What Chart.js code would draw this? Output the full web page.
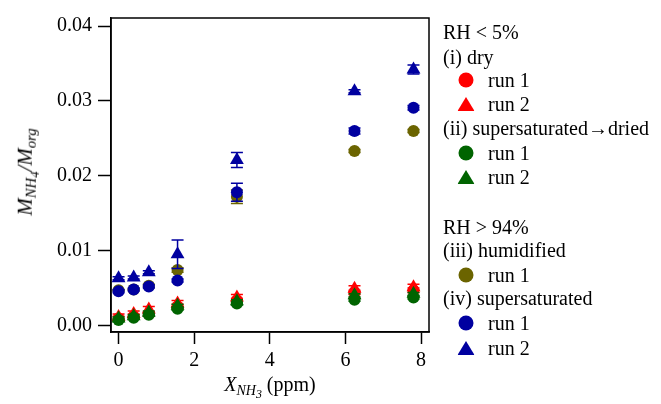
<!DOCTYPE html>
<html>
<head>
<meta charset="utf-8">
<script src="https://cdn.jsdelivr.net/npm/chart.js@4"></script>
<style>
  body { margin: 0; background: #fff; }
  #wrap { position: relative; width: 661px; height: 404px; font-family: "Liberation Serif", "DejaVu Serif", serif; color: #000; }
  #chart { position: absolute; left: 0; top: 0; }
  .ytitle { position: absolute; left: 28px; top: 172px; transform: translate(-50%, -50%) rotate(-90deg); font-size: 21px; white-space: nowrap; font-style: italic; }
  .xtitle { position: absolute; left: 270px; top: 388px; transform: translate(-50%, -50%); font-size: 20px; white-space: nowrap; }
  sub { font-size: 0.7em; vertical-align: -0.3em; }
  sub sub { font-size: 0.85em; vertical-align: -0.25em; }
  .lg { position: absolute; font-size: 20px; white-space: nowrap; line-height: 20px; transform: translateY(-50%); }
  .mk { position: absolute; transform: translate(-50%, -50%); }
  .dot { width: 15px; height: 15px; border-radius: 50%; }
  .tri { width: 17px; height: 14px; clip-path: polygon(50% 0, 100% 100%, 0 100%); }
</style>
</head>
<body>
<div id="wrap">
  <canvas id="chart" width="661" height="404"></canvas>
  <div class="ytitle">M<sub>NH<sub>4</sub></sub>/M<sub>org</sub></div>
  <div class="xtitle"><i>X<sub>NH<sub>3</sub></sub></i> (ppm)</div>
  <div id="legend"></div>
</div>
<script>
// ---- data ----
const xValues = [0, 0.4, 0.8, 1.56, 3.13, 6.24, 7.8];
const yTicks = [0, 0.01, 0.02, 0.03, 0.04];
const xTicks = [0, 2, 4, 6, 8];

// (i) dry
const dryRun1 = [0.0009, 0.0012, 0.0015, 0.0025, 0.0033, 0.0044, 0.0047];
const dryRun1Err = [0.0003, 0.0003, 0.0003, 0.0003, 0.0003, 0.0003, 0.0003];
const dryRun2 = [0.0011, 0.0015, 0.0021, 0.0029, 0.0037, 0.0049, 0.0051];
const dryRun2Err = [0.0004, 0.0004, 0.0004, 0.0004, 0.0004, 0.0004, 0.0004];
// (ii) supersaturated -> dried
const driedRun1 = [0.0007, 0.0010, 0.0014, 0.0022, 0.0029, 0.0034, 0.0037];
const driedRun1Err = [0.0002, 0.0002, 0.0002, 0.0002, 0.0002, 0.0002, 0.0002];
const driedRun2 = [0.0009, 0.0012, 0.0017, 0.0026, 0.0032, 0.0040, 0.0042];
const driedRun2Err = [0.0002, 0.0002, 0.0002, 0.0002, 0.0002, 0.0002, 0.0002];
// (iii) humidified
const humidRun1 = [0.0047, 0.0048, 0.0053, 0.0074, 0.0172, 0.0233, 0.0260];
const humidRun1Err = [0.0001, 0.0001, 0.0002, 0.0003, 0.0009, 0.0002, 0.0002];
// (iv) supersaturated
const superRun1 = [0.00455, 0.0048, 0.0052, 0.0060, 0.0178, 0.0260, 0.0291];
const superRun1Err = [0.0002, 0.0002, 0.0002, 0.0002, 0.0012, 0.0004, 0.0003];
const superRun2 = [0.0063, 0.0064, 0.0071, 0.0095, 0.0221, 0.0313, 0.0342];
const superRun2Err = [0.0002, 0.0002, 0.0002, 0.0019, 0.0010, 0.0002, 0.0006];

const RED = 'rgb(255, 0, 0)';
const GREEN = 'rgb(0, 100, 0)';
const OLIVE = 'rgb(107, 100, 0)';
const BLUE = 'rgb(0, 0, 160)';

function makeSet(label, ys, errs, color, shape, order) {
  return {
    label: label,
    data: xValues.map((x, i) => ({ x: x, y: ys[i] })),
    errors: errs,
    backgroundColor: color,
    borderColor: color,
    borderWidth: 0,
    pointStyle: shape,
    pointRadius: shape === 'triangle' ? 8 : 6,
    showLine: false,
    order: order,
  };
}

// error bars, drawn under each dataset's markers
const errorBars = {
  id: 'errorBars',
  beforeDatasetDraw(chart, args) {
    const ds = chart.data.datasets[args.index];
    if (!ds.errors) return;
    const ctx = chart.ctx;
    const xs = chart.scales.x, ys = chart.scales.y;
    ctx.save();
    ctx.strokeStyle = ds.borderColor;
    ctx.lineWidth = 1.5;
    ds.data.forEach((p, i) => {
      const px = xs.getPixelForValue(p.x);
      const top = ys.getPixelForValue(p.y + ds.errors[i]);
      const bot = ys.getPixelForValue(p.y - ds.errors[i]);
      ctx.beginPath();
      ctx.moveTo(px, top); ctx.lineTo(px, bot);
      ctx.moveTo(px - 6, top); ctx.lineTo(px + 6, top);
      ctx.moveTo(px - 6, bot); ctx.lineTo(px + 6, bot);
      ctx.stroke();
    });
    ctx.restore();
  }
};

// box round the plot area
const frame = {
  id: 'frame',
  afterDraw(chart) {
    const a = chart.chartArea, ctx = chart.ctx;
    ctx.save();
    ctx.strokeStyle = '#000';
    ctx.lineWidth = 1.5;
    ctx.strokeRect(a.left, a.top, a.right - a.left, a.bottom - a.top);
    ctx.restore();
  }
};

const scatterData = {
  datasets: [
    makeSet('(i) dry run 1', dryRun1, dryRun1Err, RED, 'circle', 7),
    makeSet('(i) dry run 2', dryRun2, dryRun2Err, RED, 'triangle', 6),
    makeSet('(ii) run 1', driedRun1, driedRun1Err, GREEN, 'circle', 5),
    makeSet('(ii) run 2', driedRun2, driedRun2Err, GREEN, 'triangle', 4),
    makeSet('(iii) run 1', humidRun1, humidRun1Err, OLIVE, 'circle', 3),
    makeSet('(iv) run 1', superRun1, superRun1Err, BLUE, 'circle', 2),
    makeSet('(iv) run 2', superRun2, superRun2Err, BLUE, 'triangle', 1),
  ]
};

const tickFont = { family: 'Liberation Serif', size: 20 };

const scatterOptions = {
  responsive: false,
  animation: false,
  layout: { padding: { left: 0, top: 15, right: 232, bottom: 0 } },
  plugins: {
    legend: { display: false },
    tooltip: { enabled: false },
  },
  scales: {
    x: {
      type: 'linear',
      min: -0.2,
      max: 8.21,
      afterBuildTicks: (s) => { s.ticks = xTicks.map(v => ({ value: v })); },
      afterFit: (s) => { s.height = 72; },
      grid: { drawOnChartArea: false, tickLength: 12, tickColor: '#000', tickWidth: 1.5 },
      border: { display: true, color: '#000', width: 1.5 },
      ticks: { color: '#000', font: tickFont, padding: 5, maxRotation: 0 },
    },
    y: {
      type: 'linear',
      min: -0.0009,
      max: 0.0411,
      afterBuildTicks: (s) => { s.ticks = yTicks.map(v => ({ value: v })); },
      afterFit: (s) => { s.width = 111; },
      grid: { drawOnChartArea: false, tickLength: 13, tickColor: '#000', tickWidth: 1.5 },
      border: { display: true, color: '#000', width: 1.5 },
      ticks: { color: '#000', font: tickFont, padding: 6, callback: (v) => v.toFixed(2) },
    }
  }
};

const scatterChart = new Chart(document.getElementById('chart'), {
  type: 'scatter',
  data: scatterData,
  options: scatterOptions,
  plugins: [errorBars, frame]
});

// ---- legend (html text) ----
const legendRows = [
  { y: 32, text: 'RH &lt; 5%' },
  { y: 57, text: '(i) dry' },
  { y: 80, text: 'run 1', color: RED, shape: 'dot' },
  { y: 104, text: 'run 2', color: RED, shape: 'tri' },
  { y: 128, text: '(ii) supersaturated<b>\u2192</b>dried' },
  { y: 153, text: 'run 1', color: GREEN, shape: 'dot' },
  { y: 177, text: 'run 2', color: GREEN, shape: 'tri' },
  { y: 227, text: 'RH &gt; 94%' },
  { y: 250, text: '(iii) humidified' },
  { y: 275, text: 'run 1', color: OLIVE, shape: 'dot' },
  { y: 298, text: '(iv) supersaturated' },
  { y: 323, text: 'run 1', color: BLUE, shape: 'dot' },
  { y: 348, text: 'run 2', color: BLUE, shape: 'tri' },
];

const legendEl = document.getElementById('legend');
legendRows.forEach(r => {
  const t = document.createElement('div');
  t.className = 'lg';
  t.style.top = r.y + 'px';
  t.style.left = (r.shape ? 488 : 443) + 'px';
  t.innerHTML = r.text;
  legendEl.appendChild(t);
  if (r.shape) {
    const m = document.createElement('div');
    m.className = 'mk ' + r.shape;
    m.style.left = '466px';
    m.style.top = r.y + 'px';
    m.style.background = r.color;
    legendEl.appendChild(m);
  }
});
</script>
</body>
</html>
